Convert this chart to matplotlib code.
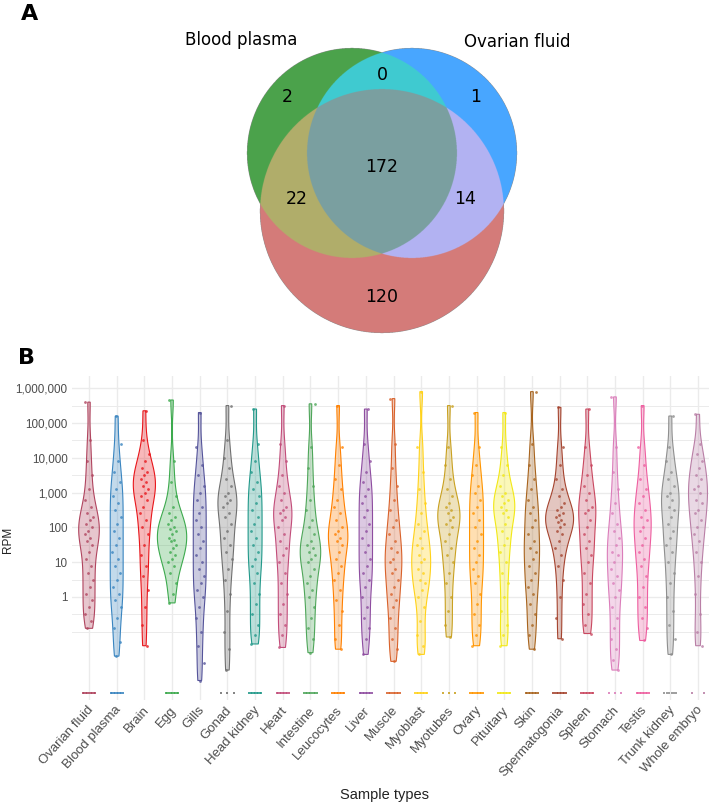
import numpy as np
import matplotlib
matplotlib.use('Agg')
import matplotlib.pyplot as plt
import matplotlib.transforms as mtransforms
from matplotlib.ticker import FixedLocator, NullFormatter

# ---- Panel A: Venn counts (regions coded as Blood plasma / Ovarian fluid / third set)
venn_labels = ['Blood plasma', 'Ovarian fluid']
venn_regions = ['100', '010', '110', '111', '101', '011', '001']
venn_counts = [2, 1, 0, 172, 22, 14, 120]

# ---- Panel B: miRNA abundance per sample type (log10 RPM)
samples = ['Ovarian fluid', 'Blood plasma', 'Brain', 'Egg', 'Gills', 'Gonad',
           'Head kidney', 'Heart', 'Intestine', 'Leucocytes', 'Liver', 'Muscle',
           'Myoblast', 'Myotubes', 'Ovary', 'Pituitary', 'Skin', 'Spermatogonia',
           'Spleen', 'Stomach', 'Testis', 'Trunk kidney', 'Whole embryo']

ovarian_fluid = [5.6, 4.5, 3.9, 3.5, 3.1, 2.8, 2.6, 2.4, 2.3, 2.2, 2.1, 2.0, 1.9, 1.8, 1.7,
                 1.6, 1.5, 1.3, 1.1, 0.9, 0.7, 0.5, 0.3, 0.1, -0.1, -0.3, -0.5, -0.7, -0.9]
blood_plasma = [5.2, 4.4, 3.9, 3.6, 3.3, 3.1, 2.9, 2.7, 2.5, 2.3, 2.1, 1.9, 1.7, 1.5, 1.3,
                1.1, 0.9, 0.7, 0.5, 0.3, 0.1, -0.1, -0.3, -0.6, -0.9, -1.3, -1.7]
brain = [5.35, 4.5, 4.1, 3.9, 3.7, 3.6, 3.5, 3.4, 3.3, 3.2, 3.1, 3.0, 2.9, 2.8, 2.6,
         2.4, 2.2, 2.0, 1.8, 1.5, 1.2, 0.9, 0.6, 0.2, -0.3, -0.8, -1.4]
egg = [5.66, 3.9, 3.3, 2.9, 2.6, 2.4, 2.3, 2.2, 2.1, 2.0, 1.95, 1.9, 1.8, 1.7, 1.65,
       1.6, 1.5, 1.4, 1.3, 1.2, 1.1, 1.0, 0.9, 0.7, 0.4, 0.1, -0.17]
gills = [5.3, 4.3, 3.8, 3.5, 3.2, 3.0, 2.8, 2.6, 2.4, 2.2, 2.0, 1.8, 1.6, 1.4, 1.2,
         1.0, 0.8, 0.6, 0.4, 0.2, 0.0, -0.3, -0.6, -1.0, -1.4, -1.9, -2.4]
gonad = [5.5, 4.5, 4.0, 3.7, 3.4, 3.2, 3.0, 2.9, 2.8, 2.7, 2.6, 2.4, 2.3, 2.1, 1.9,
         1.7, 1.5, 1.3, 1.1, 0.8, 0.5, 0.1, -0.4, -1.0, -1.5, -2.1]
head_kidney = [5.4, 4.4, 3.9, 3.6, 3.3, 3.1, 2.9, 2.7, 2.5, 2.3, 2.1, 1.9, 1.7, 1.5,
               1.3, 1.1, 0.9, 0.7, 0.4, 0.1, -0.2, -0.5, -0.8, -1.1, -1.35]
heart = [5.5, 4.4, 3.9, 3.5, 3.2, 3.0, 2.8, 2.6, 2.5, 2.4, 2.3, 2.2, 2.0, 1.8, 1.6,
         1.4, 1.2, 1.0, 0.7, 0.4, 0.1, -0.2, -0.5, -0.8, -1.1, -1.45]
intestine = [5.55, 4.3, 3.7, 3.2, 2.8, 2.5, 2.2, 2.0, 1.8, 1.6, 1.5, 1.4, 1.3, 1.2,
             1.1, 1.0, 0.8, 0.6, 0.4, 0.2, 0.0, -0.3, -0.6, -0.9, -1.2, -1.6]
leucocytes = [5.5, 4.3, 3.8, 3.4, 3.1, 2.8, 2.6, 2.4, 2.2, 2.0, 1.9, 1.8, 1.7, 1.6,
              1.5, 1.3, 1.1, 0.9, 0.7, 0.5, 0.2, -0.1, -0.4, -0.8, -1.2, -1.5]
liver = [5.4, 4.4, 3.9, 3.6, 3.3, 3.1, 2.9, 2.7, 2.5, 2.3, 2.1, 1.9, 1.7, 1.5, 1.3,
         1.1, 0.9, 0.7, 0.5, 0.3, 0.0, -0.3, -0.6, -0.9, -1.2, -1.65]
muscle = [5.7, 4.4, 3.7, 3.2, 2.8, 2.5, 2.2, 2.0, 1.8, 1.6, 1.4, 1.3, 1.1, 1.0, 0.8,
          0.7, 0.5, 0.3, 0.1, -0.1, -0.3, -0.6, -0.9, -1.2, -1.5, -1.85]
myoblast = [5.9, 4.3, 3.6, 3.1, 2.7, 2.4, 2.1, 1.9, 1.7, 1.5, 1.4, 1.2, 1.1, 1.0, 0.8,
            0.7, 0.5, 0.4, 0.2, 0.0, -0.3, -0.7, -1.1, -1.4, -1.65]
myotubes = [5.5, 4.3, 3.8, 3.4, 3.1, 2.9, 2.7, 2.6, 2.5, 2.4, 2.3, 2.2, 2.1, 2.0, 1.8,
            1.6, 1.4, 1.2, 1.0, 0.7, 0.4, 0.0, -0.4, -0.8, -1.15]
ovary = [5.3, 4.3, 3.8, 3.5, 3.2, 3.0, 2.8, 2.6, 2.4, 2.2, 2.0, 1.8, 1.6, 1.4, 1.2,
         1.0, 0.8, 0.6, 0.4, 0.1, -0.2, -0.5, -0.8, -1.1, -1.4]
pituitary = [5.3, 4.3, 3.8, 3.5, 3.2, 3.0, 2.9, 2.8, 2.7, 2.6, 2.5, 2.4, 2.3, 2.1, 1.9,
             1.7, 1.5, 1.3, 1.0, 0.7, 0.4, 0.0, -0.4, -0.8, -1.1, -1.4]
skin = [5.9, 4.4, 3.8, 3.4, 3.1, 2.8, 2.6, 2.4, 2.2, 2.0, 1.8, 1.6, 1.4, 1.3, 1.1,
        0.9, 0.7, 0.5, 0.3, 0.1, -0.2, -0.5, -0.8, -1.1, -1.5]
spermatogonia = [5.45, 4.3, 3.8, 3.4, 3.1, 2.9, 2.7, 2.6, 2.5, 2.4, 2.35, 2.3, 2.2, 2.15,
                 2.1, 2.0, 1.9, 1.8, 1.6, 1.4, 1.2, 0.9, 0.5, 0.0, -0.6, -1.2]
spleen = [5.4, 4.3, 3.8, 3.5, 3.2, 3.0, 2.8, 2.6, 2.5, 2.4, 2.2, 2.0, 1.8, 1.6, 1.4,
          1.2, 1.0, 0.7, 0.4, 0.1, -0.2, -0.5, -0.8, -1.05]
stomach = [5.75, 4.3, 3.6, 3.1, 2.7, 2.4, 2.1, 1.9, 1.7, 1.5, 1.3, 1.2, 1.0, 0.8, 0.6,
           0.4, 0.2, 0.0, -0.3, -0.6, -0.9, -1.2, -1.5, -1.8, -2.1]
testis = [5.5, 4.3, 3.8, 3.4, 3.1, 2.9, 2.7, 2.5, 2.3, 2.2, 2.0, 1.9, 1.7, 1.5, 1.3,
          1.1, 0.9, 0.6, 0.3, 0.0, -0.3, -0.6, -0.9, -1.25]
trunk_kidney = [5.2, 4.3, 3.9, 3.6, 3.4, 3.2, 3.0, 2.9, 2.8, 2.6, 2.5, 2.3, 2.1, 1.9,
                1.7, 1.5, 1.3, 1.0, 0.7, 0.4, 0.0, -0.4, -0.8, -1.2, -1.65]
whole_embryo = [5.25, 4.4, 4.1, 3.9, 3.7, 3.5, 3.4, 3.2, 3.1, 3.0, 2.8, 2.7, 2.5, 2.4,
                2.2, 2.0, 1.8, 1.6, 1.3, 1.0, 0.6, 0.1, -0.5, -1.0, -1.4]

# number of miRNAs with zero reads (drawn on the floor of the log axis)
zero_counts = [9, 9, 0, 9, 0, 3, 9, 9, 9, 9, 9, 9, 9, 3, 9, 9, 9, 9, 9, 3, 9, 6, 2]

colors = ['#B0455F', '#3A85C0', '#E8161B', '#3DAA4E', '#55549A', '#707070',
          '#22998A', '#C24D7A', '#4FA65A', '#FF8000', '#8E4DA0', '#D9622B',
          '#FFD21A', '#C9A121', '#FF9500', '#F2E816', '#A8641E', '#A5442F',
          '#C94860', '#DB7DBA', '#EE5FA0', '#8F8F8F', '#B97FA6']

rpm_log10 = [ovarian_fluid, blood_plasma, brain, egg, gills, gonad, head_kidney,
             heart, intestine, leucocytes, liver, muscle, myoblast, myotubes, ovary,
             pituitary, skin, spermatogonia, spleen, stomach, testis, trunk_kidney,
             whole_embryo]

W, H = 709, 809
fig = plt.figure(figsize=(W / 100, H / 100), dpi=100)

# background axes in pixel coordinates (Venn + figure texts)
axv = fig.add_axes([0, 0, 1, 1])
axv.axis('off')

# Venn circles: green (Blood plasma), blue (Ovarian fluid), red (third set)
circles = [(352, 153, 105), (412, 153, 105), (382, 211, 122)]
region_colors = {'100': '#4CA24C', '010': '#48A6FF', '110': '#3FCBD1',
                 '111': '#7A9FA0', '101': '#B1AD6B', '011': '#B3B3F3',
                 '001': '#D47B79'}
x0, x1, y0, y1 = 230, 540, 35, 345
gx, gy = np.meshgrid(np.linspace(x0, x1, 1240), np.linspace(y0, y1, 1240))
member = [((gx - cx) ** 2 + (gy - cy) ** 2) <= r ** 2 for cx, cy, r in circles]
img = np.zeros(gx.shape + (4,))
for code, col in region_colors.items():
    mask = np.ones(gx.shape, bool)
    for m, ch in zip(member, code):
        mask &= m if ch == '1' else ~m
    img[mask] = matplotlib.colors.to_rgba(col)
axv.imshow(img, extent=(x0, x1, y1, y0), origin='upper', interpolation='antialiased',
           aspect='auto', zorder=1)
axv.set_xlim(0, W)
axv.set_ylim(H, 0)

count_pos = {'100': (287, 97), '010': (476, 97), '110': (382, 75), '111': (382, 167),
             '101': (297, 199), '011': (465, 199), '001': (382, 297)}
for code, n in zip(venn_regions, venn_counts):
    px, py = count_pos[code]
    axv.text(px, py, str(n), ha='center', va='center', fontsize=12.5,
             family='DejaVu Sans', zorder=3)
axv.text(241, 40, venn_labels[0], ha='center', va='center', fontsize=12, family='DejaVu Sans')
axv.text(517, 42, venn_labels[1], ha='center', va='center', fontsize=12, family='DejaVu Sans')

axv.text(30, 14, 'A', ha='center', va='center', fontsize=16, fontweight='bold', family='DejaVu Sans')
axv.text(27, 358, 'B', ha='center', va='center', fontsize=16, fontweight='bold', family='DejaVu Sans')
axv.text(8, 540, 'RPM', rotation=90, ha='center', va='center', fontsize=8.5,
         family='Liberation Sans', color='#222222')
axv.text(385, 795, 'Sample types', ha='center', va='center', fontsize=10.5,
         family='Liberation Sans', color='#222222')

# ---- Panel B axes
left_px, right_px, top_px, bot_px = 72.4, 714.6, 376, 700
ax = fig.add_axes([left_px / W, 1 - bot_px / H, (right_px - left_px) / W, (bot_px - top_px) / H])
ax.set_facecolor('none')
ax.set_yscale('log')
ax.set_xlim(-0.6, len(samples) - 0.4)
ax.set_ylim(10 ** -2.96, 10 ** 6.35)

major = [10.0 ** k for k in range(0, 7)]
minor = [10 ** -1, 10 ** -0.5] + [10 ** (k + 0.5) for k in range(0, 6)]
ax.yaxis.set_major_locator(FixedLocator(major))
ax.yaxis.set_minor_locator(FixedLocator(minor))
ax.yaxis.set_minor_formatter(NullFormatter())
ax.set_yticklabels([f'{int(v):,}' for v in major], fontsize=8.4, family='Liberation Sans',
                   color='#4D4D4D')
ax.set_xticks(range(len(samples)))
ax.set_xticklabels(samples, rotation=48, ha='right', va='top', rotation_mode='anchor',
                   fontsize=9.5, family='Liberation Sans', color='#4D4D4D')
ax.tick_params(axis='both', which='both', length=0)
ax.tick_params(axis='y', pad=3.5)
ax.tick_params(axis='x', pad=3)
ax.grid(True, axis='y', which='major', color='#EBEBEB', lw=1.0)
ax.grid(True, axis='y', which='minor', color='#EBEBEB', lw=0.7)
ax.grid(True, axis='x', which='major', color='#EBEBEB', lw=1.0)
ax.set_axisbelow(True)
for s in ax.spines.values():
    s.set_visible(False)

# nudge x labels left so the last one stays inside the figure
offset = mtransforms.ScaledTranslation(-2 / 100, 0, fig.dpi_scale_trans)
for lab in ax.get_xticklabels():
    lab.set_transform(lab.get_transform() + offset)

# violins (area-scaled gaussian KDE in log space, trimmed to data range)
bw = 0.42
profiles = []
for vals in rpm_log10:
    v = np.asarray(vals)
    ys = np.linspace(v.min(), v.max(), 240)
    dens = np.exp(-0.5 * ((ys[:, None] - v[None, :]) / bw) ** 2).sum(1) / (len(v) * bw * np.sqrt(2 * np.pi))
    profiles.append((ys, dens))
k = 0.33 / np.median([d.max() for _, d in profiles])

zero_level = 10 ** -2.76
for i, ((ys, dens), vals, col, nz) in enumerate(zip(profiles, rpm_log10, colors, zero_counts)):
    hw = dens * k
    xs = np.concatenate([i - hw, (i + hw)[::-1]])
    yy = 10 ** np.concatenate([ys, ys[::-1]])
    rgba = matplotlib.colors.to_rgba(col, 0.3)
    ax.fill(xs, yy, facecolor=rgba, edgecolor=col, lw=0.8, zorder=2)
    v = np.asarray(vals)
    jit = ((np.arange(len(v)) * 0.618034 + i * 0.37) % 1 - 0.5) * 0.32
    ax.scatter(i + jit, 10 ** v, s=4, color=col, alpha=0.8, linewidths=0, zorder=3)
    if nz:
        zx = i + np.linspace(-0.22, 0.22, nz)
        ax.scatter(zx, np.full(nz, zero_level), s=3, marker='s', color=col,
                   alpha=0.85, linewidths=0, zorder=3)

fig.savefig('out.png', dpi=100)
